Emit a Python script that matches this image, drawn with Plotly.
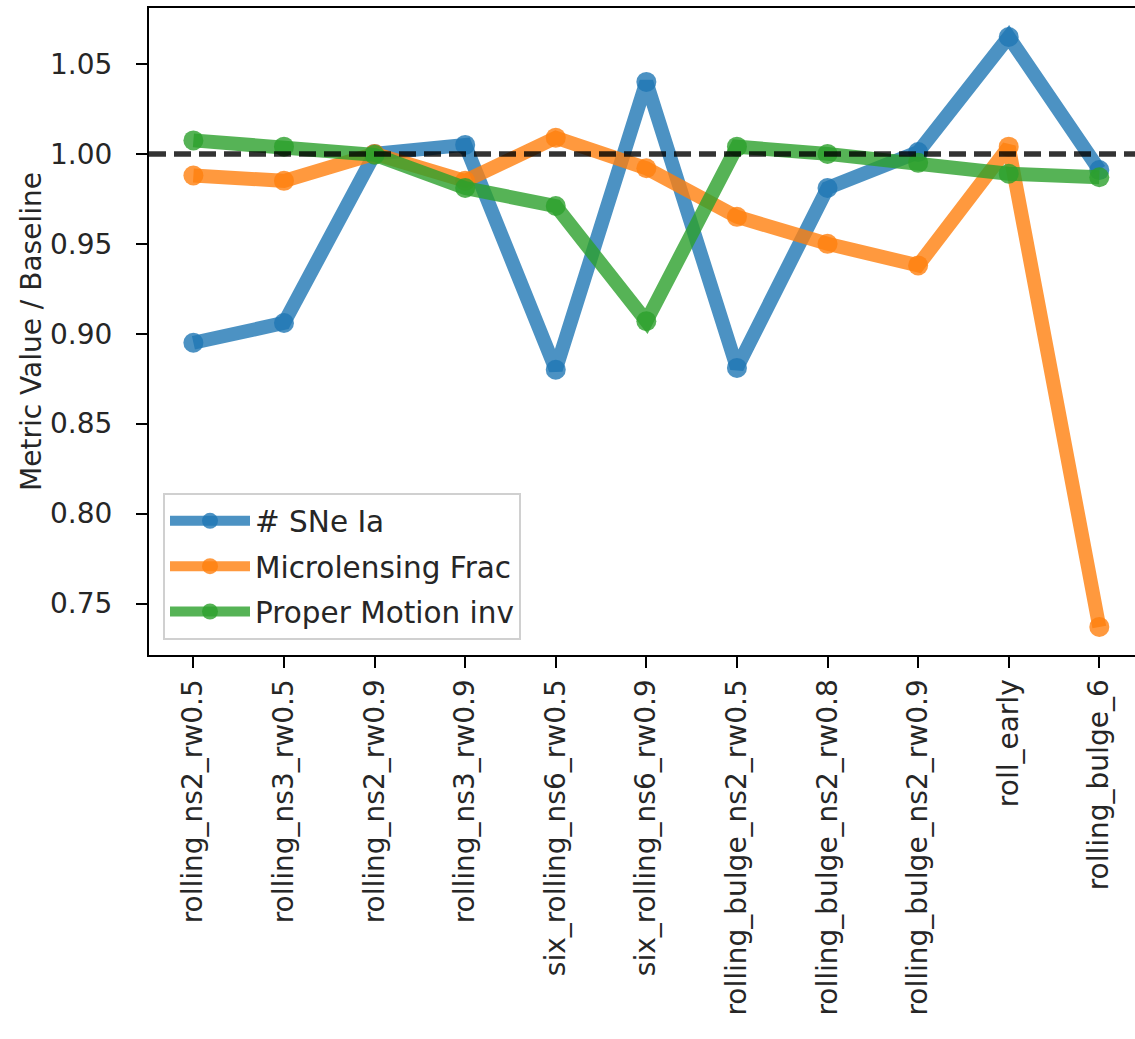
import plotly.graph_objects as go

# Survey strategies compared against the baseline run
categories = [
    "rolling_ns2_rw0.5", "rolling_ns3_rw0.5", "rolling_ns2_rw0.9", "rolling_ns3_rw0.9",
    "six_rolling_ns6_rw0.5", "six_rolling_ns6_rw0.9", "rolling_bulge_ns2_rw0.5",
    "rolling_bulge_ns2_rw0.8", "rolling_bulge_ns2_rw0.9", "roll_early", "rolling_bulge_6",
]

# Metric value divided by the baseline value
sne_ia = [0.895, 0.906, 1.000, 1.005, 0.880, 1.040, 0.881, 0.981, 1.001, 1.065, 0.991]
microlensing_frac = [0.988, 0.985, 1.000, 0.985, 1.009, 0.992, 0.965, 0.950, 0.938, 1.004, 0.737]
proper_motion_inv = [1.0075, 1.004, 0.9995, 0.981, 0.971, 0.907, 1.004, 1.000, 0.995, 0.989, 0.987]

series_names = ["# SNe Ia", "Microlensing Frac", "Proper Motion inv"]
series_colors = ["31,119,180", "255,127,14", "44,160,44"]
baseline = 1.0

y_ticks = [0.75, 0.80, 0.85, 0.90, 0.95, 1.00, 1.05]

FONT = "DejaVu Sans"
TEXT = "#262626"

fig = go.Figure()
x_idx = list(range(len(categories)))
for name, vals, rgb in zip(series_names, [sne_ia, microlensing_frac, proper_motion_inv], series_colors):
    fig.add_trace(go.Scatter(
        x=x_idx, y=vals, name=name, legendgroup=name, mode="lines+markers",
        line=dict(color=f"rgba({rgb},0.8)", width=14),
        marker=dict(color=f"rgba({rgb},0.8)", size=20, line=dict(width=0)),
    ))

# Dashed reference line at the baseline ratio
fig.add_shape(type="line", xref="x domain", yref="y", x0=0, x1=1, y0=baseline, y1=baseline,
              line=dict(color="rgba(0,0,0,0.8)", width=5.5, dash="17px,8px"), layer="above")

fig.update_layout(
    width=1135, height=1039,
    margin=dict(l=149, r=0, t=8, b=384),
    paper_bgcolor="white", plot_bgcolor="white",
    font=dict(family=FONT, size=28, color=TEXT),
    showlegend=True,
    legend=dict(
        x=0.0142, y=0.023, xanchor="left", yanchor="bottom",
        bgcolor="rgba(255,255,255,0.8)", bordercolor="#d0d0d0", borderwidth=2,
        font=dict(family=FONT, size=29.5, color=TEXT),
        itemwidth=80, tracegroupgap=4,
    ),
    xaxis=dict(
        range=[-0.49, 10.394], tickmode="array", tickvals=x_idx, ticktext=categories,
        tickangle=-90, showgrid=False, zeroline=False,
        showline=True, linecolor="black", linewidth=2.2, mirror=True,
        ticks="outside", ticklen=11, tickwidth=2.2, tickcolor="black",
        tickfont=dict(family=FONT, size=28, color=TEXT),
    ),
    yaxis=dict(
        range=[0.7214, 1.0811], tickmode="array", tickvals=y_ticks,
        ticktext=[f"{v:.2f}" for v in y_ticks],
        showgrid=False, zeroline=False,
        showline=True, linecolor="black", linewidth=2.2, mirror=False,
        ticks="outside", ticklen=11, tickwidth=2.2, tickcolor="black",
        ticklabelstandoff=18,
        tickfont=dict(family=FONT, size=28, color=TEXT),
        title=dict(text="Metric Value / Baseline", font=dict(family=FONT, size=28, color=TEXT), standoff=0),
    ),
)

fig.write_html("out.html")
